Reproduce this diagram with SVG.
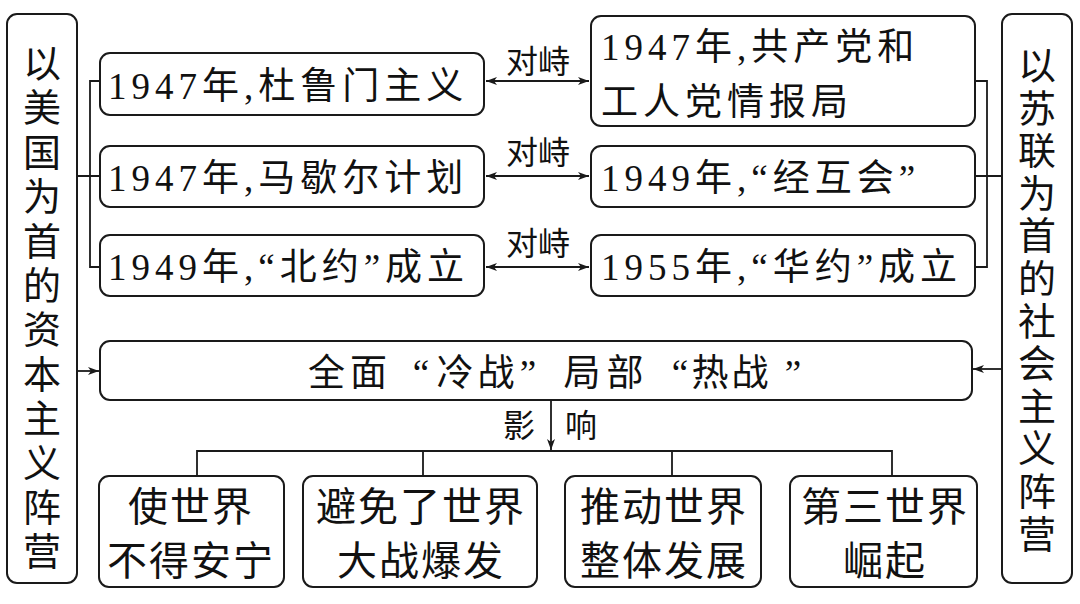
<svg xmlns="http://www.w3.org/2000/svg" width="1080" height="604" viewBox="0 0 1080 604">
<defs>
<style>
.box{fill:#fff;stroke:#1a1a1a;stroke-width:2}
.ln{fill:none;stroke:#1a1a1a;stroke-width:1.8}
.t{font-family:"Liberation Serif","Noto Sans CJK SC",serif;fill:#111}
.r{font-size:37px;letter-spacing:5px}
.v{font-size:38px;text-anchor:middle}
.lb{font-size:32px;text-anchor:middle}
.b{font-size:40px;text-anchor:middle;letter-spacing:2px}
.m{font-size:37px;text-anchor:middle}
</style>
<marker id="ah" markerWidth="12" markerHeight="10" refX="11" refY="4" orient="auto-start-reverse" markerUnits="userSpaceOnUse">
<path d="M0,0 L11,4 L0,8 L3,4 Z" fill="#1a1a1a"/>
</marker>
</defs>
<rect width="1080" height="604" fill="#fff"/>

<g id="us-camp">
<rect class="box" x="7" y="14" width="70" height="569" rx="10"/>
<text class="t v"><tspan x="42" y="77">以</tspan><tspan x="42" y="121.4">美</tspan><tspan x="42" y="165.8">国</tspan><tspan x="42" y="210.2">为</tspan><tspan x="42" y="254.6">首</tspan><tspan x="42" y="299">的</tspan><tspan x="42" y="343.4">资</tspan><tspan x="42" y="387.8">本</tspan><tspan x="42" y="432.2">主</tspan><tspan x="42" y="476.6">义</tspan><tspan x="42" y="521">阵</tspan><tspan x="42" y="565.4">营</tspan></text>
</g>

<g id="ussr-camp">
<rect class="box" x="1002" y="14" width="70" height="569" rx="10"/>
<text class="t v"><tspan x="1037" y="79">以</tspan><tspan x="1037" y="121.6">苏</tspan><tspan x="1037" y="164.2">联</tspan><tspan x="1037" y="206.8">为</tspan><tspan x="1037" y="249.4">首</tspan><tspan x="1037" y="292">的</tspan><tspan x="1037" y="334.6">社</tspan><tspan x="1037" y="377.2">会</tspan><tspan x="1037" y="419.8">主</tspan><tspan x="1037" y="462.4">义</tspan><tspan x="1037" y="505">阵</tspan><tspan x="1037" y="547.6">营</tspan></text>
</g>

<g id="truman">
<rect class="box" x="100" y="53" width="384" height="62" rx="10"/>
<text class="t r" x="108" y="99">1947年,杜鲁门主义</text>
</g>
<g id="marshall">
<rect class="box" x="100" y="146" width="384" height="61" rx="10"/>
<text class="t r" x="108" y="191">1947年,马歇尔计划</text>
</g>
<g id="nato">
<rect class="box" x="100" y="235" width="384" height="61" rx="10"/>
<text class="t r" x="108" y="280">1949年,“北约”成立</text>
</g>

<g id="cominform">
<rect class="box" x="591" y="16" width="384" height="110" rx="10"/>
<text class="t r" x="601" y="60">1947年,共产党和</text>
<text class="t r" x="601" y="115">工人党情报局</text>
</g>
<g id="comecon">
<rect class="box" x="591" y="146" width="384" height="61" rx="10"/>
<text class="t r" x="601" y="191">1949年,“经互会”</text>
</g>
<g id="warsaw">
<rect class="box" x="591" y="235" width="384" height="61" rx="10"/>
<text class="t r" x="601" y="280">1955年,“华约”成立</text>
</g>

<g id="coldwar">
<rect class="box" x="100" y="341" width="872" height="59" rx="10"/>
<text class="t m" x="326.5 368.5 421 455 496 528 582 625 680 710 750 793" y="386">全面“冷战”局部“热战”</text>
</g>

<g id="impact1">
<rect class="box" x="99" y="476" width="185" height="111" rx="10"/>
<text class="t b" x="191" y="521">使世界</text>
<text class="t b" x="191" y="575">不得安宁</text>
</g>
<g id="impact2">
<rect class="box" x="303" y="476" width="234" height="111" rx="10"/>
<text class="t b" x="421" y="521">避免了世界</text>
<text class="t b" x="421" y="575">大战爆发</text>
</g>
<g id="impact3">
<rect class="box" x="565" y="476" width="196" height="111" rx="10"/>
<text class="t b" x="664" y="521">推动世界</text>
<text class="t b" x="664" y="575">整体发展</text>
</g>
<g id="impact4">
<rect class="box" x="790" y="476" width="187" height="111" rx="10"/>
<text class="t b" x="885" y="521">第三世界</text>
<text class="t b" x="885" y="575">崛起</text>
</g>

<g id="connectors">
<path class="ln" d="M77,176 H90 M100,81 H90 V267 H100 M90,176 H100"/>
<path class="ln" d="M1002,176 H987 M975,81 H987 V267 H975 M987,176 H975"/>
<line class="ln" x1="486" y1="81" x2="589" y2="81" marker-start="url(#ah)" marker-end="url(#ah)"/>
<line class="ln" x1="486" y1="176" x2="589" y2="176" marker-start="url(#ah)" marker-end="url(#ah)"/>
<line class="ln" x1="486" y1="267" x2="589" y2="267" marker-start="url(#ah)" marker-end="url(#ah)"/>
<text class="t lb" x="538" y="73">对峙</text>
<text class="t lb" x="538" y="164">对峙</text>
<text class="t lb" x="538" y="255">对峙</text>
<line class="ln" x1="77" y1="371" x2="99" y2="371" marker-end="url(#ah)"/>
<line class="ln" x1="1002" y1="369" x2="973" y2="369" marker-end="url(#ah)"/>
<line class="ln" x1="551" y1="400" x2="551" y2="450" marker-end="url(#ah)"/>
<text class="t lb" x="519" y="437">影</text>
<text class="t lb" x="581" y="437">响</text>
<path class="ln" d="M197,476 V451 H892 V476 M423,451 V476 M672,451 V476"/>
</g>
</svg>
